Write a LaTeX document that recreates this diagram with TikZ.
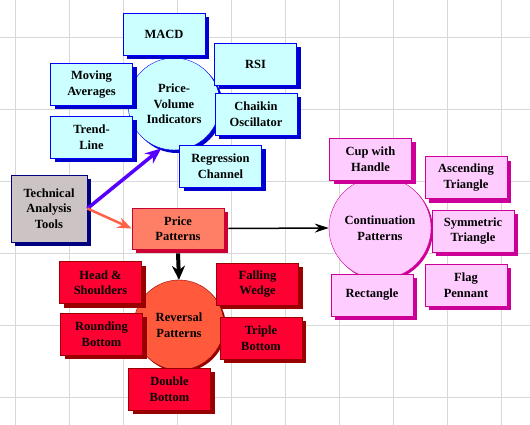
\documentclass[tikz,border=0pt]{standalone}
\usepackage{fontspec}
\setmainfont{Liberation Serif}
\usetikzlibrary{positioning,shadows,arrows.meta}
\definecolor{gridgray}{HTML}{D8D8D8}
\definecolor{pvfill}{HTML}{CCFFFF}
\definecolor{pvline}{HTML}{0000FF}
\definecolor{pvshade}{HTML}{0000CC}
\definecolor{techfill}{HTML}{CCC4C4}
\definecolor{techline}{HTML}{000080}
\definecolor{ppfill}{HTML}{FF7F66}
\definecolor{ppline}{HTML}{CC0033}
\definecolor{revcirc}{HTML}{FF5A3C}
\definecolor{revfill}{HTML}{FF0033}
\definecolor{revline}{HTML}{990000}
\definecolor{confill}{HTML}{FFCCFF}
\definecolor{conline}{HTML}{CC0099}
\definecolor{blueviolet}{HTML}{5500FF}
\definecolor{orangered}{HTML}{FF6347}
\tikzset{pbox/.style={rectangle,draw,thick,align=center,inner sep=0pt,
		minimum width=82pt,minimum height=42pt},
	 pcirc/.style={circle,draw,align=center,inner sep=0pt},
	 pvbox/.style={pbox,draw=pvline,fill=pvfill,drop shadow={shadow xshift=4pt,shadow yshift=-4pt,opacity=1,fill=pvshade}},
	 pvcirc/.style={pcirc,draw=pvline,fill=pvfill,drop shadow={shadow xshift=3pt,shadow yshift=-3pt,opacity=1,fill=pvshade}},
	 revbox/.style={pbox,draw=revline,fill=revfill,drop shadow={shadow xshift=4pt,shadow yshift=-4pt,opacity=1,fill=revline}},
	 revcircle/.style={pcirc,draw=revline,fill=revcirc,drop shadow={shadow xshift=2pt,shadow yshift=-2pt,opacity=1,fill=revline}},
	 conbox/.style={pbox,draw=conline,fill=confill,drop shadow={shadow xshift=4pt,shadow yshift=-4pt,opacity=1,fill=conline}},
	 concirc/.style={pcirc,draw=conline,fill=confill,drop shadow={shadow xshift=2pt,shadow yshift=-2pt,opacity=1,fill=conline}},
	 node distance = 1
	 }

\begin{document}
\begin{tikzpicture}[x=1pt,y=-1pt,font=\fontsize{12.5}{15.5}\selectfont\bfseries]
	\useasboundingbox[fill=white] (0,0) rectangle (530,425);
	% grid
	\foreach \gx in {15,69,...,501} \draw[gridgray] (\gx,0) -- (\gx,425);
	\foreach \gy in {37,109,...,397} \draw[gridgray] (0,\gy) -- (530,\gy);
	% circles
	\node[pvcirc,minimum size=92pt] (pv) at (174,104) {Price-\\Volume\\Indicators};
	\node[revcircle,minimum size=90pt] (rev) at (179,325) {Reversal\\Patterns};
	\node[concirc,minimum size=102pt] (con) at (380,228) {Continuation\\Patterns};
	% price-volume indicators
	\node[pvbox] (macd) at (164,34) {MACD};
	\node[pvbox] (rsi) at (255.5,64) {RSI};
	\node[pvbox] (mavg) at (91.5,84.5) {Moving\\Averages};
	\node[pvbox] (trend) at (91.5,137) {Trend-\\Line};
	\node[pvbox] (chaikin) at (256,114) {Chaikin\\Oscillator};
	\node[pvbox] (regr) at (220.5,166) {Regression\\Channel};
	% root and price patterns
	\node[pbox,draw=techline,fill=techfill,minimum width=76pt,minimum height=67pt,
		drop shadow={shadow xshift=4pt,shadow yshift=-4pt,opacity=1,fill=techline}] (tech) at (49,208.5) {Technical\\Analysis\\Tools};
	\node[pbox,draw=ppline,fill=ppfill,minimum width=92pt,minimum height=41pt,
		drop shadow={shadow xshift=4pt,shadow yshift=-4pt,opacity=1,fill=ppline}] (pp) at (178,228.5) {Price\\Patterns};
	% reversal patterns
	\node[revbox] (hs) at (100.5,282.5) {Head \&\\Shoulders};
	\node[revbox] (round) at (101.5,334) {Rounding\\Bottom};
	\node[revbox] (dbl) at (169.5,389) {Double\\Bottom};
	\node[revbox] (fall) at (257.5,284) {Falling\\Wedge};
	\node[revbox] (triple) at (261,338) {Triple\\Bottom};
	% continuation patterns
	\node[conbox] (cup) at (370.5,159) {Cup with\\Handle};
	\node[conbox] (asc) at (466,177.5) {Ascending\\Triangle};
	\node[conbox] (sym) at (473,231) {Symmetric\\Triangle};
	\node[conbox] (flag) at (466,285) {Flag\\Pennant};
	\node[conbox] (rect) at (372,295) {Rectangle};
	% connectors
	\draw[blueviolet,line width=3.5pt,-{Stealth[length=16pt,width=13pt]}] (tech.east) -- (pv.254);
	\draw[orangered,line width=2.5pt,-{Stealth[length=14pt,width=11pt]}] (tech.east) -- (pp.west);
	\draw[black,line width=1.5pt,-{Stealth[length=14pt,width=9pt]}] ([xshift=4pt]pp.east) -- (con.west);
	\draw[black,line width=4pt,-{Stealth[length=14pt,width=13pt]}] ([yshift=-4pt]pp.south) -- (rev.north);
\end{tikzpicture}
\end{document}
